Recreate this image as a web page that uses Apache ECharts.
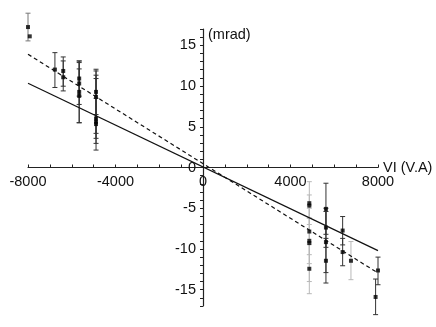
<!DOCTYPE html>
<html>
<head>
<meta charset="utf-8">
<script src="https://cdn.jsdelivr.net/npm/echarts@6/dist/echarts.min.js"></script>
<style>
html, body { margin: 0; padding: 0; background: #fff; }
#c_chart { width: 436px; height: 327px; }
</style>
</head>
<body>
<div id="c_chart"></div>
<script>
// tick labels
var xLabels = [-8000, -4000, 0, 4000, 8000];
var yLabels = [-15, -10, -5, 0, 5, 10, 15];

// measurements: [VI, angle, low, high]
var midPts = [
    [-8000, 17.24, 15.54, 18.94]
];
var darkPts = [
    [-6770, 12.02, 9.82, 14.1],
    [-6390, 11.85, 9.98, 13.57],
    [-6390, 11.08, 9.4, 13.08],
    [-5660, 10.92, 8.76, 13.08],
    [-5660, 10.31, 7.74, 12.88],
    [-5660, 9.28, 5.49, 13.07],
    [-5660, 8.79, 5.5, 12.1],
    [-4890, 9.28, 6.5, 12.06],
    [-4890, 8.67, 4.19, 11.85],
    [-4890, 6.02, 3.58, 11.33],
    [-4890, 5.61, 2.96, 10.92],
    [-4890, 5.33, 2.14, 8.5],
    [5620, -5.08, -8.2, -1.93],
    [5620, -7.37, -9.8, -5.0],
    [5620, -9.16, -12.9, -5.4],
    [5620, -11.45, -14.18, -8.7],
    [6384, -7.74, -9.5, -6.02],
    [6384, -10.38, -12.06, -8.7],
    [8000, -12.64, -14.39, -11.0],
    [7890, -15.89, -18.06, -13.69]
];
var lightPts = [
    [4860, -4.38, -7.0, -1.74],
    [4860, -4.68, -6.22, -3.37],
    [4860, -7.86, -10.7, -5.0],
    [4860, -9.0, -11.8, -6.2],
    [4860, -9.28, -14.0, -4.7],
    [4860, -12.43, -15.49, -9.4],
    [6764, -11.45, -13.77, -9.09]
];
// point without its own bar
var extraPts = [[-7920, 16.1]];

var solidFit = [[-8000, 10.35], [8000, -10.2]];
var dashedFit = [[-8000, 13.9], [8000, -12.95]];

var dm = document.getElementById('c_chart');
var ch = echarts.init(dm);
var font = "'Liberation Sans', Arial, sans-serif";

function barSeries(rows, color) {
    return {
        type: 'custom',
        data: rows.map(function (r) { return [r[0], r[2], r[3]]; }),
        encode: { x: 0, y: [1, 2] },
        clip: false,
        silent: true,
        renderItem: function (params, api) {
            var x = api.value(0);
            var lo = api.coord([x, api.value(1)]);
            var hi = api.coord([x, api.value(2)]);
            var w = 2.5;
            var st = { stroke: color, lineWidth: 1 };
            return {
                type: 'group',
                children: [
                    { type: 'line', shape: { x1: lo[0], y1: lo[1], x2: hi[0], y2: hi[1] }, style: st },
                    { type: 'line', shape: { x1: hi[0] - w, y1: hi[1], x2: hi[0] + w, y2: hi[1] }, style: st },
                    { type: 'line', shape: { x1: lo[0] - w, y1: lo[1], x2: lo[0] + w, y2: lo[1] }, style: st }
                ]
            };
        }
    };
}

var allPts = midPts.concat(darkPts, lightPts).map(function (r) { return [r[0], r[1]]; }).concat(extraPts);

// grid is 350 x 277, axes crossing in the middle
var option = {
    animation: false,
    grid: { left: 28, right: 58, top: 29, bottom: 21, outerBoundsMode: 'none' },
    xAxis: {
        type: 'value',
        min: -8000,
        max: 8000,
        interval: 1000,
        position: 'bottom',
        offset: -138.5,
        name: 'VI (V.A)',
        nameLocation: 'end',
        nameGap: 5,
        nameMoveOverlap: false,
        nameTextStyle: { fontFamily: font, fontSize: 14.5, color: '#111', overflow: 'none' },
        axisLine: { onZero: false, lineStyle: { color: '#222', width: 1.2 } },
        axisTick: { inside: true, length: 3, lineStyle: { color: '#222' } },
        axisLabel: {
            fontFamily: font, fontSize: 14.5, color: '#111', margin: 7,
            formatter: function (v) { return xLabels.indexOf(v) >= 0 ? String(v) : ''; }
        },
        splitLine: { show: false }
    },
    yAxis: {
        type: 'value',
        min: -17,
        max: 17,
        interval: 1,
        position: 'left',
        offset: -175,
        name: '(mrad)',
        nameLocation: 'end',
        nameGap: -6,
        nameMoveOverlap: false,
        nameTextStyle: { fontFamily: font, fontSize: 14.5, color: '#111', align: 'left', verticalAlign: 'middle', padding: [0, 0, 0, 5] },
        axisLine: { onZero: false, lineStyle: { color: '#222', width: 1.2 } },
        axisTick: { length: 3, lineStyle: { color: '#222' } },
        axisLabel: {
            fontFamily: font, fontSize: 14.5, color: '#111', margin: 7,
            formatter: function (v) { return yLabels.indexOf(v) >= 0 ? String(v) : ''; }
        },
        splitLine: { show: false }
    },
    series: [
        {
            type: 'line', data: solidFit, symbol: 'none', silent: true,
            lineStyle: { color: '#111', width: 1.2 }
        },
        {
            type: 'line', data: dashedFit, symbol: 'none', silent: true,
            lineStyle: { color: '#111', width: 1.2, type: [4, 3] }
        },
        barSeries(lightPts, '#b8b8b8'),
        barSeries(midPts, '#777'),
        barSeries(darkPts, '#333'),
        {
            type: 'scatter', data: allPts, symbol: 'rect', symbolSize: 4, clip: false,
            itemStyle: { color: '#000' }, silent: true
        }
    ]
};

ch.setOption(option);
window.onresize = function () {
    ch.resize();
};
</script>
</body>
</html>
